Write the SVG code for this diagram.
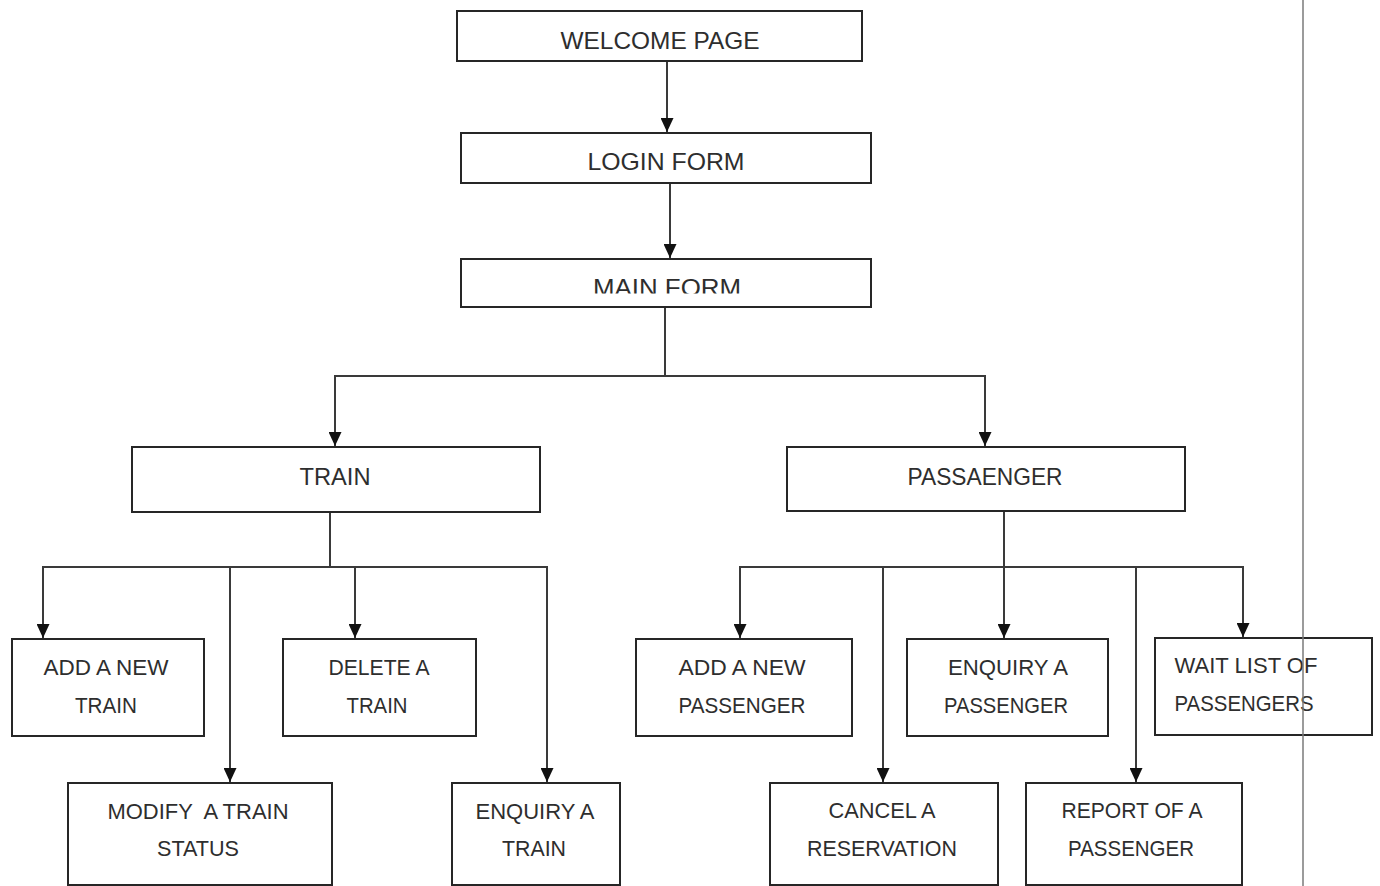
<svg xmlns="http://www.w3.org/2000/svg" width="1380" height="886" viewBox="0 0 1380 886">
  <style>
    .box { fill: #ffffff; stroke: #262626; stroke-width: 2; }
    .lbl { font-family: "Liberation Sans", Arial, sans-serif; fill: #2e2e2e; text-anchor: middle; }
    .big { font-size: 24px; }
    .sm { font-size: 22px; }
    .wire { fill: none; stroke: #3a3a3a; stroke-width: 2; }
    .arr { fill: none; stroke: #3a3a3a; stroke-width: 2; marker-end: url(#head); }
    .rule { stroke: #7a7a7a; stroke-width: 1.5; }
  </style>
  <defs>
    <marker id="head" markerUnits="userSpaceOnUse" markerWidth="14" markerHeight="13" refX="14" refY="6.5" orient="auto">
      <path d="M0,0 L14,6.5 L0,13 Z" fill="#111111"/>
    </marker>
    <clipPath id="mainClip">
      <rect x="461" y="259" width="410" height="34.5"/>
    </clipPath>
  </defs>
  <rect width="1380" height="886" fill="#ffffff"/>

  <!-- connectors -->
  <g id="connectors">
    <path class="arr" d="M667,61 V132"/>
    <path class="arr" d="M670,183 V258"/>
    <path class="wire" d="M665,307 V376 M334,376 H986"/>
    <path class="arr" d="M335,376 V446"/>
    <path class="arr" d="M985,376 V446"/>
    <!-- train branches -->
    <path class="wire" d="M330,512 V567 M42,567 H548"/>
    <path class="arr" d="M43,567 V638"/>
    <path class="arr" d="M230,567 V782"/>
    <path class="arr" d="M355,567 V638"/>
    <path class="arr" d="M547,567 V782"/>
    <!-- passenger branches -->
    <path class="wire" d="M1004,511 V567 M739,567 H1244"/>
    <path class="arr" d="M740,567 V638"/>
    <path class="arr" d="M883,567 V782"/>
    <path class="arr" d="M1004,567 V638"/>
    <path class="arr" d="M1136,567 V782"/>
    <path class="arr" d="M1243,567 V637"/>
  </g>

  <g id="welcome">
    <rect class="box" x="457" y="11" width="405" height="50"/>
    <text class="lbl big" x="660" y="49" textLength="199" lengthAdjust="spacingAndGlyphs">WELCOME PAGE</text>
  </g>
  <g id="login">
    <rect class="box" x="461" y="133" width="410" height="50"/>
    <text class="lbl big" x="666" y="170" textLength="157" lengthAdjust="spacingAndGlyphs">LOGIN FORM</text>
  </g>
  <g id="main-form">
    <rect class="box" x="461" y="259" width="410" height="48"/>
    <text class="lbl big" x="667" y="295.5" textLength="148" lengthAdjust="spacingAndGlyphs" clip-path="url(#mainClip)">MAIN FORM</text>
  </g>
  <g id="train">
    <rect class="box" x="132" y="447" width="408" height="65"/>
    <text class="lbl big" x="335" y="485" textLength="71" lengthAdjust="spacingAndGlyphs">TRAIN</text>
  </g>
  <g id="passenger">
    <rect class="box" x="787" y="447" width="398" height="64"/>
    <text class="lbl big" x="985" y="485" textLength="155" lengthAdjust="spacingAndGlyphs">PASSAENGER</text>
  </g>

  <g id="add-train">
    <rect class="box" x="12" y="639" width="192" height="97"/>
    <text class="lbl sm" x="106" y="675" textLength="125" lengthAdjust="spacingAndGlyphs">ADD A NEW</text>
    <text class="lbl sm" x="106" y="713" textLength="62" lengthAdjust="spacingAndGlyphs">TRAIN</text>
  </g>
  <g id="delete-train">
    <rect class="box" x="283" y="639" width="193" height="97"/>
    <text class="lbl sm" x="379" y="675" textLength="101" lengthAdjust="spacingAndGlyphs">DELETE A</text>
    <text class="lbl sm" x="377" y="713" textLength="61" lengthAdjust="spacingAndGlyphs">TRAIN</text>
  </g>
  <g id="modify-train">
    <rect class="box" x="68" y="783" width="264" height="102"/>
    <text class="lbl sm" x="198" y="819" textLength="181" lengthAdjust="spacingAndGlyphs" xml:space="preserve">MODIFY  A TRAIN</text>
    <text class="lbl sm" x="198" y="856" textLength="82" lengthAdjust="spacingAndGlyphs">STATUS</text>
  </g>
  <g id="enquiry-train">
    <rect class="box" x="452" y="783" width="168" height="102"/>
    <text class="lbl sm" x="535" y="819" textLength="119" lengthAdjust="spacingAndGlyphs">ENQUIRY A</text>
    <text class="lbl sm" x="534" y="856" textLength="64" lengthAdjust="spacingAndGlyphs">TRAIN</text>
  </g>

  <g id="add-passenger">
    <rect class="box" x="636" y="639" width="216" height="97"/>
    <text class="lbl sm" x="742" y="675" textLength="127" lengthAdjust="spacingAndGlyphs">ADD A NEW</text>
    <text class="lbl sm" x="742" y="713" textLength="127" lengthAdjust="spacingAndGlyphs">PASSENGER</text>
  </g>
  <g id="enquiry-passenger">
    <rect class="box" x="907" y="639" width="201" height="97"/>
    <text class="lbl sm" x="1008" y="675" textLength="120" lengthAdjust="spacingAndGlyphs">ENQUIRY A</text>
    <text class="lbl sm" x="1006" y="713" textLength="124" lengthAdjust="spacingAndGlyphs">PASSENGER</text>
  </g>
  <g id="wait-list">
    <rect class="box" x="1155" y="638" width="217" height="97"/>
    <text class="lbl sm" x="1246" y="673" textLength="143" lengthAdjust="spacingAndGlyphs">WAIT LIST OF</text>
    <text class="lbl sm" x="1244" y="711" textLength="139" lengthAdjust="spacingAndGlyphs">PASSENGERS</text>
  </g>
  <g id="cancel-reservation">
    <rect class="box" x="770" y="783" width="228" height="102"/>
    <text class="lbl sm" x="882" y="818" textLength="107" lengthAdjust="spacingAndGlyphs">CANCEL A</text>
    <text class="lbl sm" x="882" y="856" textLength="150" lengthAdjust="spacingAndGlyphs">RESERVATION</text>
  </g>
  <g id="report-passenger">
    <rect class="box" x="1026" y="783" width="216" height="102"/>
    <text class="lbl sm" x="1132" y="818" textLength="141" lengthAdjust="spacingAndGlyphs">REPORT OF A</text>
    <text class="lbl sm" x="1131" y="856" textLength="126" lengthAdjust="spacingAndGlyphs">PASSENGER</text>
  </g>

  <!-- page margin rule -->
  <line class="rule" x1="1303" y1="0" x2="1303" y2="886"/>
</svg>
